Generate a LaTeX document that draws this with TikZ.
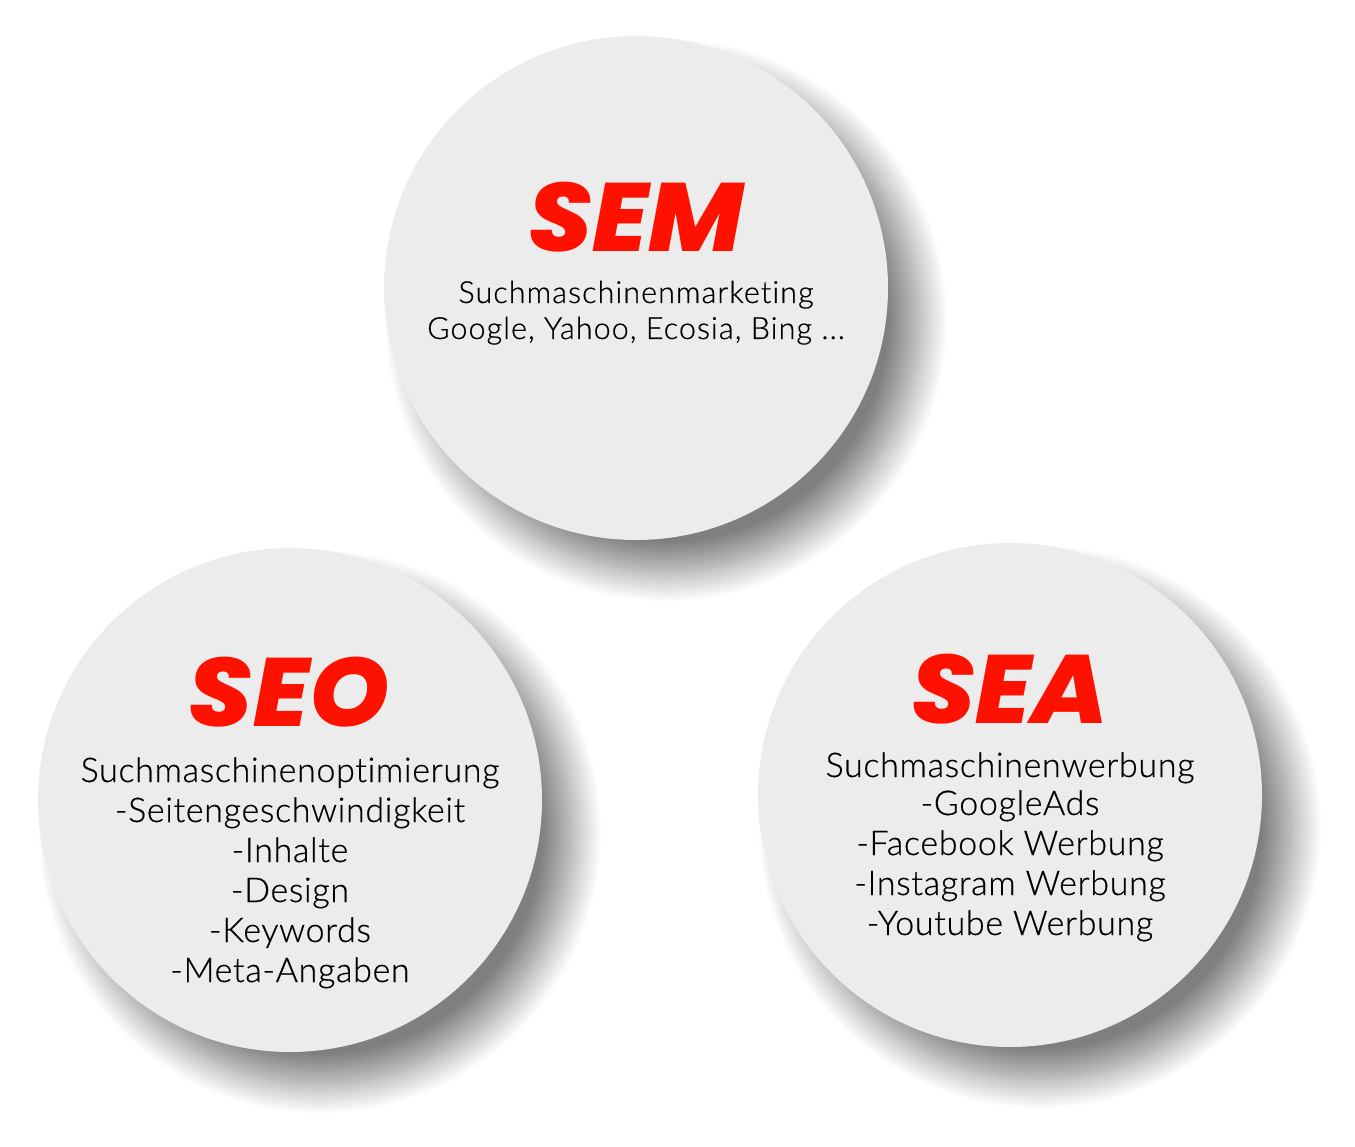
\documentclass[tikz,border=0pt]{standalone}
\usepackage{fontspec}
\usetikzlibrary{shadows.blur}
\IfFontExistsTF{Poppins ExtraBold Italic}
  {\newfontfamily\headfont{Poppins ExtraBold Italic}[FakeStretch=1.05]}
  {\newfontfamily\headfont{Poppins Bold Italic}[FakeBold=1.5,FakeStretch=1.08]}
\IfFontExistsTF{Lato Light}
  {\newfontfamily\bodyfont{Lato Light}[Ligatures=NoCommon,FakeBold=0.5]}
  {\newfontfamily\bodyfont{Lato}[Ligatures=NoCommon]}
\definecolor{circfill}{RGB}{236,236,236}
\definecolor{headred}{RGB}{255,17,0}
\tikzset{
  bubble/.style={circle, fill=circfill, minimum size=504pt, inner sep=0pt,
    blur shadow={shadow xshift=30pt, shadow yshift=-32pt, shadow blur radius=30pt,
      shadow opacity=50, shadow blur steps=30}},
  headtxt/.style={anchor=base, text=headred, font=\headfont\fontsize{97}{97}\selectfont, inner sep=0pt},
  bodytxt/.style={anchor=base, text=black, font=\bodyfont\addfontfeature{LetterSpace=2}\fontsize{34}{40}\selectfont, inner sep=0pt},
  smalltxt/.style={anchor=base, text=black, font=\bodyfont\addfontfeature{LetterSpace=3.5}\fontsize{30.5}{36}\selectfont, inner sep=0pt}
}
\begin{document}
\begin{tikzpicture}[x=1pt,y=-1pt]
\useasboundingbox (0,0) rectangle (1355,1147);
\node[bubble] (sem) at (636,288) {};
\node[bubble] (seo) at (290,800) {};
\node[bubble] (sea) at (1010,795) {};
% SEM
\node[headtxt] (semh) at (636,252) {SEM};
\node[smalltxt] (sem1) at (636,303) {Suchmaschinenmarketing};
\node[smalltxt] (sem2) at (636,339) {Google, Yahoo, Ecosia, Bing ...};
% SEO
\node[headtxt] (seoh) at (289,726) {SEO};
\foreach \t [count=\i] in {Suchmaschinenoptimierung,-Seitengeschwindigkeit,-Inhalte,-Design,-Keywords,-Meta-Angaben}
  \node[bodytxt] (seo\i) at (290,{782+40*(\i-1)}) {\t};
% SEA
\node[headtxt] (seah) at (1010,723) {SEA};
\node[bodytxt] (sea1) at (1010,777) {Suchmaschinenwerbung};
\foreach \t [count=\i from 2] in {-GoogleAds,-Facebook Werbung,-Instagram Werbung,-Youtube Werbung}
  \node[bodytxt] (sea\i) at (1010,{815+40*(\i-2)}) {\t};
\end{tikzpicture}
\end{document}
